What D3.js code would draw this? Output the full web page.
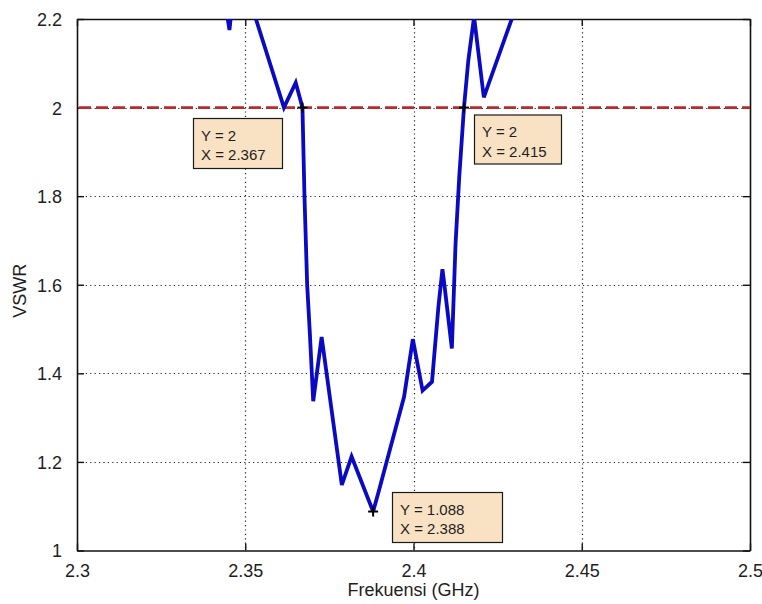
<!DOCTYPE html>
<html>
<head>
<meta charset="utf-8">
<script src="https://cdn.jsdelivr.net/npm/d3@7/dist/d3.min.js"></script>
<style>
  html, body { margin: 0; padding: 0; background: #ffffff; }
  svg { display: block; }
  text { font-family: "Liberation Sans", Arial, sans-serif; fill: #1e1e1e; }
</style>
</head>
<body>
<svg id="chart" width="762" height="604"></svg>
<script>
// Measured VSWR of the antenna versus frequency (GHz)
const freq = [2.3440, 2.3453, 2.3462, 2.3515, 2.3615, 2.3650, 2.3670, 2.3676, 2.3684, 2.3692,
              2.3702, 2.3727, 2.3787, 2.3816, 2.3880, 2.3898, 2.3920, 2.3972, 2.3998, 2.4027,
              2.4055, 2.4074, 2.4086, 2.4092, 2.4114, 2.4125, 2.4136, 2.4150, 2.4163, 2.4180,
              2.4209, 2.4292, 2.4302];
const vswr = [2.240, 2.175, 2.240, 2.240, 2.000, 2.056, 2.000, 1.800, 1.600, 1.490,
              1.337, 1.482, 1.148, 1.212, 1.088, 1.137, 1.200, 1.347, 1.477, 1.361,
              1.381, 1.550, 1.635, 1.599, 1.456, 1.693, 1.844, 2.000, 2.107, 2.205,
              2.023, 2.200, 2.231];

// Reference level VSWR = 2
const limitVswr = 2;

// Data tips
const tipX = [2.367, 2.415, 2.388];
const tipY = [2, 2, 1.088];

// Axis ticks
const xTicks = [2.3, 2.35, 2.4, 2.45, 2.5];
const xTickLabels = ["2.3", "2.35", "2.4", "2.45", "2.5"];
const yTicks = [1, 1.2, 1.4, 1.6, 1.8, 2, 2.2];
const yTickLabels = ["1", "1.2", "1.4", "1.6", "1.8", "2", "2.2"];

const svg = d3.select("#chart");
const plot = { left: 77, right: 750, top: 19, bottom: 550.5 };

const x = d3.scaleLinear().domain([2.3, 2.5]).range([plot.left, plot.right]);
const y = d3.scaleLinear().domain([1, 2.2]).range([plot.bottom, plot.top]);

svg.append("defs").append("clipPath").attr("id", "plotClip")
  .append("rect")
  .attr("x", plot.left).attr("y", plot.top)
  .attr("width", plot.right - plot.left).attr("height", plot.bottom - plot.top);

// plot background
svg.append("rect")
  .attr("x", plot.left).attr("y", plot.top)
  .attr("width", plot.right - plot.left).attr("height", plot.bottom - plot.top)
  .attr("fill", "#ffffff");

// dotted grid
const grid = svg.append("g").attr("stroke", "#222").attr("stroke-width", 1.2)
  .attr("stroke-dasharray", "1.2,3.2");
grid.selectAll("line.gx").data(xTicks.slice(1, -1)).join("line")
  .attr("x1", d => Math.round(x(d)) + 0.5).attr("x2", d => Math.round(x(d)) + 0.5)
  .attr("y1", plot.top).attr("y2", plot.bottom);
grid.selectAll("line.gy").data(yTicks.slice(1)).join("line")
  .attr("y1", d => Math.round(y(d)) + 0.5).attr("y2", d => Math.round(y(d)) + 0.5)
  .attr("x1", plot.left).attr("x2", plot.right);

// axes with inward ticks, mirrored on all four sides
const tickLen = 7;
const xAxisBottom = d3.axisBottom(x).tickValues(xTicks).tickSizeInner(-tickLen).tickSizeOuter(0)
  .tickFormat((d, i) => xTickLabels[i]).tickPadding(tickLen + 8);
const xAxisTop = d3.axisTop(x).tickValues(xTicks).tickSizeInner(-tickLen).tickSizeOuter(0)
  .tickFormat("");
const yAxisLeft = d3.axisLeft(y).tickValues(yTicks).tickSizeInner(-tickLen).tickSizeOuter(0)
  .tickFormat((d, i) => yTickLabels[i]).tickPadding(tickLen + 8);
const yAxisRight = d3.axisRight(y).tickValues(yTicks).tickSizeInner(-tickLen).tickSizeOuter(0)
  .tickFormat("");

function styleAxis(g) {
  g.select(".domain").attr("stroke", "#111").attr("stroke-width", 1.6);
  g.selectAll(".tick line").attr("stroke", "#111").attr("stroke-width", 1.4);
  g.selectAll(".tick text").attr("font-size", 18)
    .attr("font-family", "'Liberation Sans', Arial, sans-serif").attr("fill", "#1e1e1e");
}

svg.append("g").attr("transform", `translate(0,${plot.bottom})`).call(xAxisBottom).call(styleAxis)
  .selectAll(".tick text").attr("dy", "0.62em");
svg.append("g").attr("transform", `translate(0,${plot.top})`).call(xAxisTop).call(styleAxis);
svg.append("g").attr("transform", `translate(${plot.left},0)`).call(yAxisLeft).call(styleAxis)
  .selectAll(".tick text").attr("dy", "0.36em");
svg.append("g").attr("transform", `translate(${plot.right},0)`).call(yAxisRight).call(styleAxis);

// VSWR = 2 limit line
svg.append("line")
  .attr("x1", plot.left + 2).attr("x2", plot.right)
  .attr("y1", y(limitVswr)).attr("y2", y(limitVswr))
  .attr("stroke", "#b82a2c").attr("stroke-width", 2.6)
  .attr("stroke-dasharray", "12,5");

// VSWR curve
const series = freq.map((f, i) => [f, vswr[i]]);
svg.append("path")
  .datum(series)
  .attr("clip-path", "url(#plotClip)")
  .attr("fill", "none")
  .attr("stroke", "#0a0ac4")
  .attr("stroke-width", 3.8)
  .attr("stroke-linejoin", "miter")
  .attr("stroke-miterlimit", 3)
  .attr("d", d3.line().x(d => x(d[0])).y(d => y(d[1])));

// data-tip markers
const tips = tipX.map((f, i) => ({ f, v: tipY[i] }));
const marker = svg.append("g").attr("stroke", "#000").attr("stroke-width", 2);
tips.forEach(t => {
  const cx = x(t.f), cy = y(t.v);
  marker.append("line").attr("x1", cx - 5).attr("x2", cx + 5).attr("y1", cy).attr("y2", cy);
  marker.append("line").attr("x1", cx).attr("x2", cx).attr("y1", cy - 5).attr("y2", cy + 5);
});

// data-tip boxes
const boxes = [
  { left: 193, top: 118, w: 89, h: 50 },
  { left: 474, top: 114.5, w: 87, h: 49 },
  { left: 392, top: 492, w: 110, h: 50 }
];
tips.forEach((t, i) => {
  const b = boxes[i];
  const g = svg.append("g").attr("transform", `translate(${b.left},${b.top})`);
  g.append("rect").attr("x", 0.5).attr("y", 0.5).attr("width", b.w).attr("height", b.h)
    .attr("fill", "#f9e2c4").attr("stroke", "#1a1a1a").attr("stroke-width", 1.2);
  g.append("text").attr("x", 8).attr("y", 22.5).attr("font-size", 15)
    .text(`Y = ${d3.format("")(t.v)}`);
  g.append("text").attr("x", 8).attr("y", 42).attr("font-size", 15)
    .text(`X = ${d3.format(".3f")(t.f)}`);
});

// axis titles
svg.append("text")
  .attr("x", (plot.left + plot.right) / 2).attr("y", 596)
  .attr("text-anchor", "middle").attr("font-size", 18)
  .text("Frekuensi (GHz)");
svg.append("text")
  .attr("transform", `translate(26,${(plot.top + plot.bottom) / 2 + 6}) rotate(-90)`)
  .attr("text-anchor", "middle").attr("font-size", 18)
  .text("VSWR");
</script>
</body>
</html>
